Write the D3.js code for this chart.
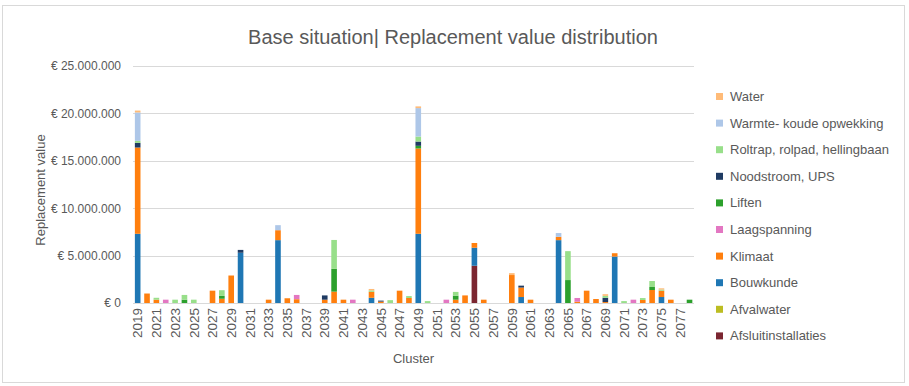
<!DOCTYPE html>
<html>
<head>
<meta charset="utf-8">
<script src="https://cdn.jsdelivr.net/npm/d3@7"></script>
<style>
  body { margin: 0; background: #fff; }
  svg text { font-family: "Liberation Sans", Arial, sans-serif; fill: #595959; }
</style>
</head>
<body>
<svg id="chart" width="909" height="386"></svg>
<script>
// years on the x axis (Cluster)
const years = d3.range(2019, 2079).map(String);

// series, bottom of the stack first (values in millions of euro, one per year)
const seriesNames = [
  "Afsluitinstallaties", "Afvalwater", "Bouwkunde", "Klimaat", "Laagspanning",
  "Liften", "Noodstroom, UPS", "Roltrap, rolpad, hellingbaan",
  "Warmte- koude opwekking", "Water"
];
const seriesColors = [
  "#7b2631", "#bcbd22", "#1f77b4", "#ff7f0e", "#e377c2",
  "#2ca02c", "#1f3b63", "#98df8a", "#aec7e8", "#ffbb78"
];

//                     2019                                   2029                                   2039                                   2049                                   2059                                   2069
const afsluit   = [0,0,0,0,0,0,0,0,0,0,  0,0,0,0,0,0,0,0,0,0,  0,0,0,0,0,0,0,0,0,0,  0,0,0,0,0,0,3.93,0,0,0,  0,0,0,0,0,0,0,0,0,0,  0,0,0,0,0,0,0,0,0,0];
const afvalwater= [0,0,0,0,0,0,0,0,0,0,  0,0,0,0,0,0,0,0,0,0,  0,0,0,0,0,0,0,0,0,0,  0,0,0,0,0,0,0,0,0,0,  0,0,0,0,0,0,0,0,0,0,  0,0,0,0,0,0,0,0,0,0];
const bouwkunde = [7.3,0,0,0,0,0,0,0,0,0,  0,5.3,0,0,0,6.63,0,0,0,0,  0,0,0,0,0,0.55,0,0,0,0,  7.3,0,0,0,0,0,1.9,0,0,0,  0,0.63,0,0,0,6.63,0,0,0,0,  0,4.9,0,0,0,0,0.63,0,0,0];
const klimaat   = [9.1,1.0,0.35,0,0,0,0,0,1.3,0.45,  2.9,0,0,0,0.35,1.05,0.5,0.4,0,0,  0.35,1.2,0.35,0,0,0.63,0.15,0,1.3,0.53,  9.0,0,0,0,0.35,0.8,0.5,0.35,0,0,  2.95,1.0,0.35,0,0,0.35,0,0.14,1.3,0.42,  0.1,0.35,0,0,0.32,1.37,0.67,0.35,0,0];
const laag      = [0,0,0,0.35,0,0,0,0,0,0,  0,0,0,0,0,0,0,0.45,0,0,  0,0,0,0.35,0,0,0,0,0,0,  0,0,0,0.35,0,0,0,0,0,0,  0,0,0,0,0,0,0,0.39,0,0,  0,0,0,0.35,0,0,0,0,0,0];
const liften    = [0,0,0,0,0,0.35,0,0,0,0.3,  0,0,0,0,0,0,0,0,0,0,  0,2.4,0,0,0,0,0,0,0,0,  0.28,0,0,0,0.42,0,0,0,0,0,  0,0,0,0,0,0,2.42,0,0,0,  0,0,0,0,0,0.32,0,0,0,0.35];
const noodstroom= [0.5,0,0,0,0,0,0,0,0,0,  0,0.3,0,0,0,0,0,0,0,0,  0.45,0,0,0,0,0,0.1,0,0,0,  0.45,0,0,0,0,0,0,0,0,0,  0,0.2,0,0,0,0,0,0,0,0,  0.45,0,0,0,0,0,0,0,0,0];
const roltrap   = [0.2,0,0.2,0,0.35,0.5,0.35,0,0,0.6,  0,0,0,0,0,0,0,0,0,0,  0,3.05,0,0,0,0.15,0,0.3,0,0.2,  0.53,0.2,0,0,0.4,0,0,0,0,0,  0,0,0,0,0,0,3.05,0,0,0,  0.2,0,0.2,0,0.2,0.63,0.12,0,0,0];
const warmte    = [3.0,0,0,0,0,0,0,0,0,0,  0,0,0,0,0,0.53,0,0,0,0,  0,0,0,0,0,0,0,0,0,0,  3.0,0,0,0,0,0,0,0,0,0,  0,0,0,0,0,0.4,0,0,0,0,  0,0,0,0,0,0,0,0,0,0];
const water     = [0.2,0,0,0,0,0,0,0,0,0,  0,0,0,0,0,0,0,0,0,0,  0,0,0,0,0,0.15,0,0,0,0,  0.18,0,0,0,0,0,0,0,0,0,  0.2,0,0,0,0,0,0,0,0,0,  0.18,0,0,0,0,0,0.13,0,0,0];

const seriesValues = [afsluit, afvalwater, bouwkunde, klimaat, laag, liften, noodstroom, roltrap, warmte, water];

const yTicks = [0, 5e6, 10e6, 15e6, 20e6, 25e6];

// table for d3.stack
const rows = years.map((yr, i) => {
  const row = { year: yr };
  seriesNames.forEach((s, j) => { row[s] = seriesValues[j][i] * 1e6; });
  return row;
});

const svg = d3.select("#chart");
const margin = { left: 133, right: 215, top: 66, bottom: 83 };
const width = 909, height = 386;

// chart border
svg.append("rect")
  .attr("x", 2.5).attr("y", 5.5)
  .attr("width", 902).attr("height", 377)
  .attr("fill", "white")
  .attr("stroke", "#d9d9d9");

const x = d3.scaleBand()
  .domain(years)
  .range([margin.left, width - margin.right + 0.2])
  .paddingInner(0.4)
  .paddingOuter(0.2);

const y = d3.scaleLinear()
  .domain([0, 25e6])
  .range([height - margin.bottom, margin.top]);

const locale = d3.formatLocale({ decimal: ",", thousands: ".", grouping: [3], currency: ["€ ", ""] });
const fmt = locale.format(",");

// gridlines
svg.append("g")
  .selectAll("line")
  .data(yTicks)
  .join("line")
  .attr("x1", margin.left)
  .attr("x2", width - margin.right)
  .attr("y1", d => Math.round(y(d)) + 0.5)
  .attr("y2", d => Math.round(y(d)) + 0.5)
  .attr("stroke", "#d9d9d9")
  .attr("stroke-width", 1);

// y axis labels
const yAxis = svg.append("g")
  .attr("transform", `translate(${margin.left - 9},0)`)
  .call(d3.axisLeft(y).tickValues(yTicks).tickSize(0).tickFormat(d => "€ " + fmt(d)));
yAxis.select(".domain").remove();
yAxis.selectAll("text")
  .attr("font-size", "12px")
  .attr("font-family", null)
  .attr("fill", "#595959");

// stacked bars
const stack = d3.stack().keys(seriesNames);
const layers = stack(rows);

svg.append("g")
  .selectAll("g")
  .data(layers)
  .join("g")
  .attr("fill", (d, i) => seriesColors[i])
  .selectAll("rect")
  .data(d => d.filter(p => p[1] - p[0] > 0))
  .join("rect")
  .attr("x", d => x(d.data.year))
  .attr("width", x.bandwidth())
  .attr("y", d => y(d[1]))
  .attr("height", d => y(d[0]) - y(d[1]));

// x axis labels (every other year)
const xAxis = svg.append("g")
  .attr("transform", `translate(0,${height - margin.bottom})`)
  .call(d3.axisBottom(x).tickValues(years.filter((d, i) => i % 2 === 0)).tickSize(0));
xAxis.select(".domain").remove();
xAxis.selectAll("text")
  .attr("font-size", "13.5px")
  .attr("font-family", null)
  .attr("fill", "#595959")
  .attr("transform", "rotate(-90)")
  .attr("text-anchor", "end")
  .attr("x", -5)
  .attr("y", 0)
  .attr("dy", "0.35em");

// axis titles
svg.append("text")
  .attr("x", (margin.left + width - margin.right) / 2)
  .attr("y", 363)
  .attr("text-anchor", "middle")
  .attr("font-size", "13px")
  .text("Cluster");

svg.append("text")
  .attr("transform", `translate(45,190) rotate(-90)`)
  .attr("text-anchor", "middle")
  .attr("font-size", "13px")
  .text("Replacement value");

// title
svg.append("text")
  .attr("x", 453)
  .attr("y", 44)
  .attr("text-anchor", "middle")
  .attr("font-size", "20px")
  .text("Base situation| Replacement value distribution");

// legend, top entry is the last series
const legend = svg.append("g")
  .selectAll("g")
  .data(seriesNames.map((s, i) => ({ name: s, color: seriesColors[i] })).reverse())
  .join("g")
  .attr("transform", (d, i) => `translate(716,${96.5 + i * 26.6})`);

legend.append("rect")
  .attr("x", 0).attr("y", -3.5)
  .attr("width", 7).attr("height", 7)
  .attr("fill", d => d.color);

legend.append("text")
  .attr("x", 14)
  .attr("y", 0)
  .attr("dy", "0.35em")
  .attr("font-size", "13px")
  .text(d => d.name);
</script>
</body>
</html>
